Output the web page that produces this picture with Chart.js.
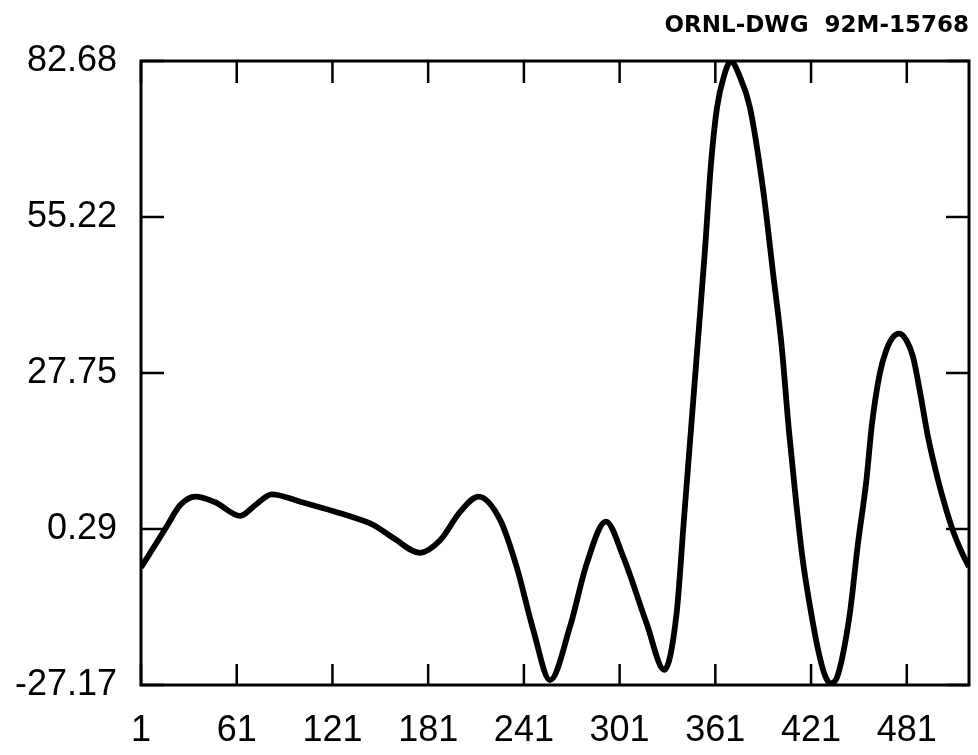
<!DOCTYPE html>
<html>
<head>
<meta charset="utf-8">
<script src="https://cdn.jsdelivr.net/npm/chart.js@4"></script>
<style>
html,body{margin:0;padding:0;background:#fff;}
#wrap{width:978px;height:755px;position:relative;}
</style>
</head>
<body>
<div id="wrap"><canvas id="c"></canvas></div>
<script>
// sample index and value
var xs=[1,17,25.6,35,47.5,63.2,72.6,83,100.8,130,146.7,159.2,175.9,188.5,201,212.5,226.1,236.5,246.9,257.4,269.9,280.4,292.4,303.3,317.9,329,336.7,341.3,345.7,350.1,354.5,358.2,362.0,366.4,370.7,376.4,382.6,391.0,397.2,402.5,407.1,411.5,415.8,420.2,425.2,429.6,433.4,437.8,445.3,450.3,455.7,459.1,464.1,468.2,472.4,476.2,480.8,484.9,489.1,494.3,500.6,505.4,509.8,514.8,520];
var ys=[-6.5,0.7,4.5,6.0,5.0,2.6,4.5,6.4,5.1,2.7,1.0,-1.3,-3.9,-1.7,3.3,6.0,1.9,-6.4,-17.5,-26.3,-16.9,-5.8,1.6,-4.6,-16.3,-24.5,-14.6,1.9,17.7,33.5,49.4,64.3,74.4,80.0,82.6,79.9,74.6,59.9,45.3,32.7,17.7,5.4,-5.2,-13.1,-20.7,-25.4,-26.9,-25.4,-14.6,-2.5,8.9,18.6,27.7,31.8,34.1,34.7,33.5,30.6,24.7,16.5,8.9,4.0,0.1,-3.4,-6.4];
var xTicks=[1,61,121,181,241,301,361,421,481];
var yTicks=[-27.17,0.29,27.75,55.22,82.68];
var yLabels=['-27.17','0.29','27.75','55.22','82.68'];
var dwgTitle='ORNL-DWG  92M-15768';

var pts=xs.map(function(x,i){return {x:x,y:ys[i]};});

// plot frame plus inward tick marks on all four sides
var frame={id:'frame',afterDatasetsDraw:function(c){
  var a=c.chartArea,sx=c.scales.x,sy=c.scales.y,ctx=c.ctx;
  ctx.save();
  ctx.strokeStyle='#000';ctx.lineWidth=2.5;
  ctx.beginPath();
  xTicks.forEach(function(v){
    var p=sx.getPixelForValue(v);
    ctx.moveTo(p,a.top);ctx.lineTo(p,a.top+22);
    ctx.moveTo(p,a.bottom);ctx.lineTo(p,a.bottom-21);
  });
  yTicks.forEach(function(v){
    var p=sy.getPixelForValue(v);
    ctx.moveTo(a.left,p);ctx.lineTo(a.left+23,p);
    ctx.moveTo(a.right,p);ctx.lineTo(a.right-23,p);
  });
  ctx.stroke();
  ctx.lineWidth=3;
  ctx.strokeRect(a.left,a.top,a.right-a.left,a.bottom-a.top);
  ctx.restore();
}};

var tickFont={family:'Liberation Sans',size:36};

new Chart(document.getElementById('c'),{
  type:'line',
  data:{datasets:[{data:pts,borderColor:'#000',borderWidth:5.8,pointRadius:0,fill:false,cubicInterpolationMode:'monotone'}]},
  options:{
    responsive:true,maintainAspectRatio:false,animation:false,
    layout:{padding:{left:0,right:9,top:0,bottom:0}},
    plugins:{
      legend:{display:false},tooltip:{enabled:false},
      title:{display:true,text:dwgTitle,align:'end',color:'#000',font:{family:'DejaVu Sans',size:23,weight:'bold'},padding:{top:12,bottom:21.4}}
    },
    scales:{
      x:{type:'linear',min:1,max:520,
        grid:{display:false,drawTicks:false},border:{display:false},
        afterBuildTicks:function(s){s.ticks=xTicks.map(function(v){return {value:v};});},
        afterFit:function(s){s.height=70;},
        ticks:{autoSkip:false,maxRotation:0,padding:24,color:'#000',font:tickFont,callback:function(v){return String(v);}}
      },
      y:{type:'linear',min:-27.17,max:82.68,
        grid:{display:false,drawTicks:false},border:{display:false},
        afterBuildTicks:function(s){s.ticks=yTicks.map(function(v){return {value:v};});},
        afterFit:function(s){s.width=141;},
        ticks:{autoSkip:false,padding:24,color:'#000',font:tickFont,callback:function(v){var i=yTicks.indexOf(v);return i>=0?yLabels[i]:'';}}
      }
    }
  },
  plugins:[frame]
});
</script>
</body>
</html>
